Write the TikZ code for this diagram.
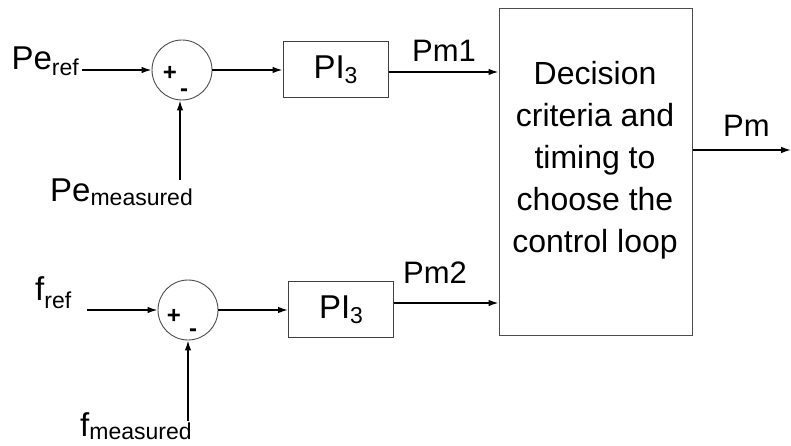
\documentclass[tikz,border=0pt]{standalone}
\usepackage{fontspec}
\setmainfont{Liberation Sans}
\usetikzlibrary{arrows.meta}
\newcommand{\subtxt}[2][0.16em]{\raisebox{-#1}{\fontsize{23}{23}\selectfont #2}}
\begin{document}
\begin{tikzpicture}[x=1pt,y=-1pt,
  lbl/.style={inner sep=0pt,font=\fontsize{33}{38}\selectfont},
  plbl/.style={inner sep=0pt,font=\fontsize{31}{36}\selectfont},
  dtxt/.style={inner sep=0pt,anchor=base,font=\fontsize{32}{38}\selectfont},
  sumnode/.style={circle,draw=black!70,line width=0.9pt,minimum size=60pt,inner sep=0pt},
  pibox/.style={draw=black!75,line width=1pt,minimum width=105pt,minimum height=56pt,inner sep=0pt,font=\fontsize{33}{38}\selectfont},
  bigbox/.style={draw=black!70,line width=1pt,minimum width=193pt,minimum height=326pt,inner sep=0pt},
  conn/.style={line width=1.4pt,-{Latex[length=10pt,width=6.5pt]}},
  sgn/.style={inner sep=0pt,font=\fontsize{24}{24}\selectfont\bfseries}]
\useasboundingbox (0,0) rectangle (791,446);
% top row
\node[lbl,anchor=base east] (peref) at (79,70) {Pe\subtxt{ref}};
\node[sumnode] (s1) at (182,70) {};
\node[sgn] at (170,73) {+};
\node[sgn] at (184,93) {-};
\node[lbl,anchor=base west] (pemeas) at (50,202) {Pe\subtxt[0.1em]{measured}};
\coordinate (pemtop) at (180,180);
\node[pibox] (pi1) at (335.5,70) {PI\subtxt{3}};
\node[bigbox] (dec) at (595.5,172) {};
\node[dtxt] (d1) at (595,85) {Decision};
\node[dtxt] (d2) at (595,126.75) {criteria and};
\node[dtxt] (d3) at (595,168.5) {timing to};
\node[dtxt] (d4) at (595,210.25) {choose the};
\node[dtxt] (d5) at (595,252) {control loop};
\node[plbl,anchor=base west] (pm1) at (412,62) {Pm1};
% bottom row
\node[lbl,anchor=base west] (fref) at (35,300) {f\subtxt[0.25em]{ref}};
\node[sumnode] (s2) at (188,310) {};
\node[sgn] at (174,316) {+};
\node[sgn] at (193,333) {-};
\node[lbl,anchor=base west] (fmeas) at (80,436) {f\subtxt[0.1em]{measured}};
\coordinate (fmtop) at (188,421);
\node[pibox] (pi2) at (341,309.5) {PI\subtxt{3}};
\node[plbl,anchor=base west] (pm2) at (403,283) {Pm2};
\node[plbl,anchor=base west] (pm) at (723,137) {Pm};
\coordinate (pmend) at (791,150);
% connectors
\draw[conn] (82,70) -- (s1.west);
\draw[conn] (pemtop) -- (s1.south -| pemtop);
\draw[conn] (s1.east) -- (pi1.west);
\draw[conn] (pi1.east |- 0,72) -- (dec.west |- 0,72);
\draw[conn] (87,310) -- (s2.west);
\draw[conn] (fmtop) -- (s2.south);
\draw[conn] (s2.east) -- (pi2.west |- s2.east);
\draw[conn] (pi2.east |- 0,303) -- (dec.west |- 0,303);
\draw[conn] (dec.east |- pmend) -- (pmend);
\end{tikzpicture}
\end{document}
